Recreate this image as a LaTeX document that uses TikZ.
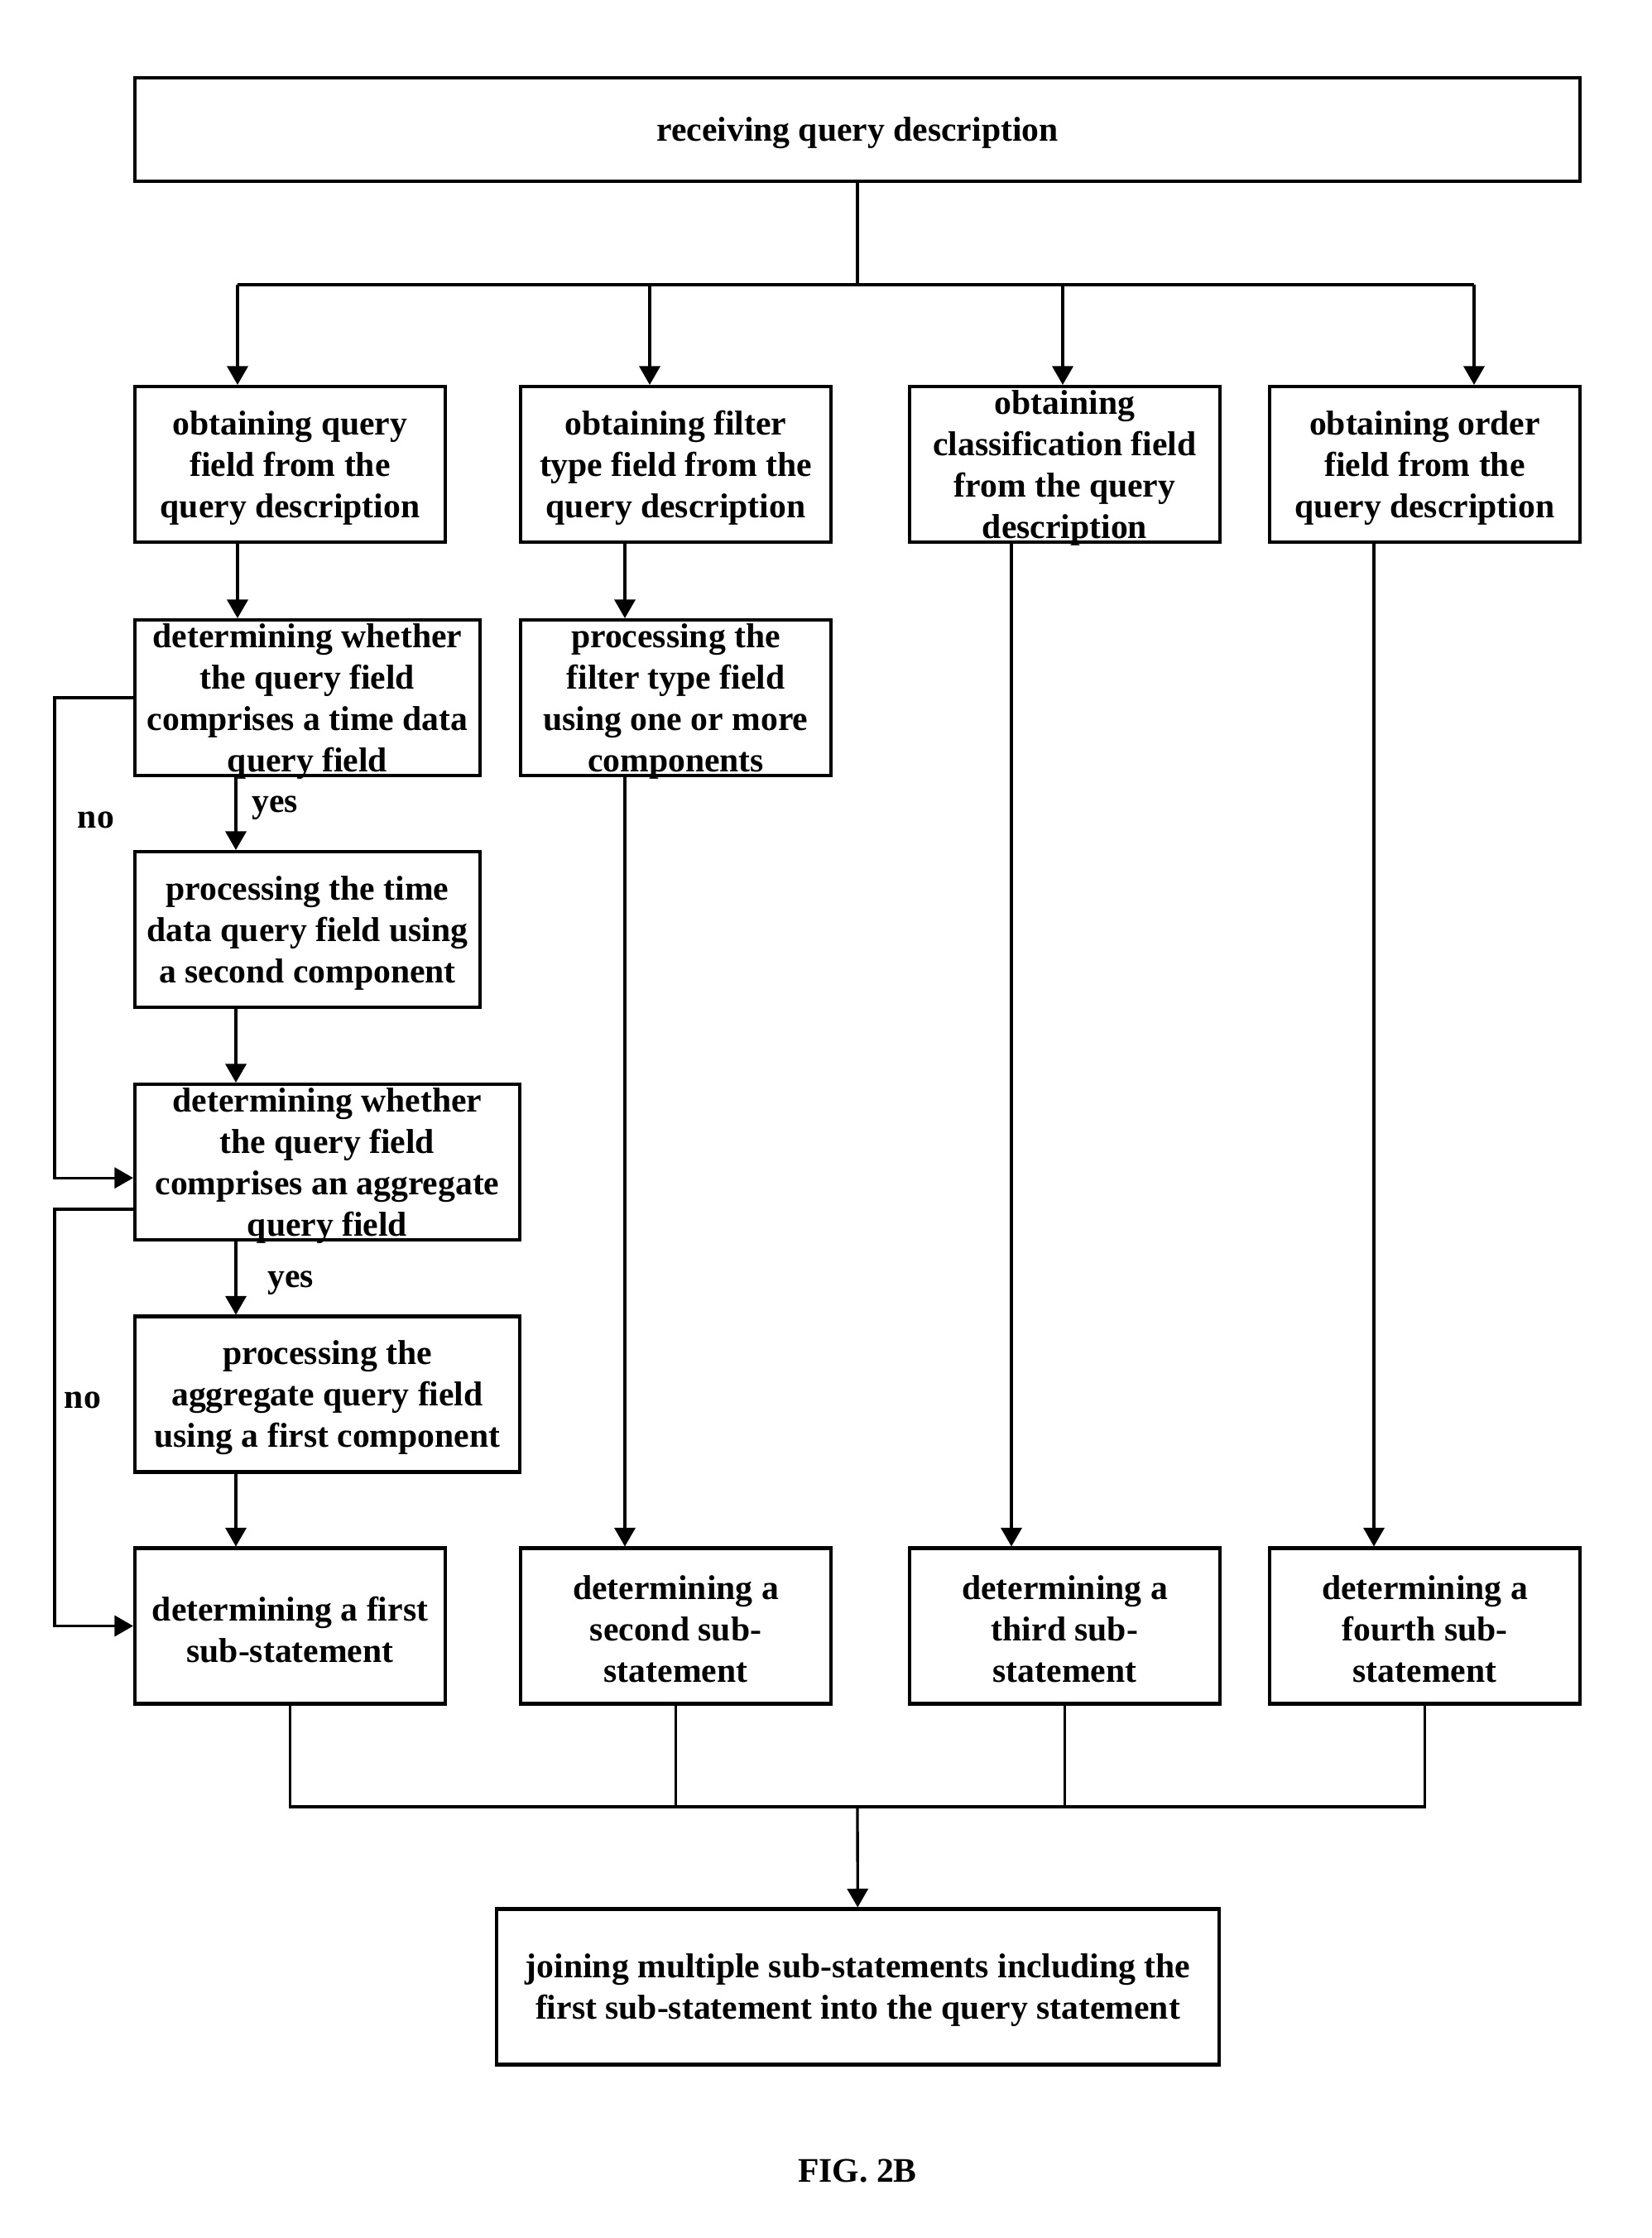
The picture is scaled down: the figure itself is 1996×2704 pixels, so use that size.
\documentclass[tikz,border=0pt]{standalone}
\usepackage{fontspec}
\setmainfont{Liberation Serif}
\usetikzlibrary{arrows.meta}
\tikzset{box node/.style={rectangle,draw,line width=1pt,inner sep=0pt,minimum height=45.1pt},
         box text/.style={align=center,font=\bfseries\fontsize{10}{12}\selectfont,inner sep=0pt,yshift=-1pt},
         tag node/.style={font=\bfseries\fontsize{10}{12}\selectfont,inner sep=0pt},
         flow/.style={line width=0.8pt,-{Triangle[width=6pt,length=5.4pt]}},
         link/.style={line width=0.8pt},
            }

\begin{document}
\begin{tikzpicture}[x=0.24pt,y=-0.24pt]
    \useasboundingbox (0,0) rectangle (1996,2704);

    \node[box node,minimum width=419pt,minimum height=30pt,label={[box text]center:receiving query description}] (1) at (1036,156.5) {};
    \node[box node,minimum width=90pt,label={[box text]center:obtaining query\\field from the\\query description}] (2) at (350.5,561) {};
    \node[box node,minimum width=90pt,label={[box text]center:obtaining filter\\type field from the\\query description}] (3) at (816.5,561) {};
    \node[box node,minimum width=90pt,label={[box text]center:obtaining\\classification field\\from the query\\description}] (4) at (1286.5,561) {};
    \node[box node,minimum width=90pt,label={[box text]center:obtaining order\\field from the\\query description}] (5) at (1721.5,561) {};
    \node[box node,minimum width=100.1pt,label={[box text]center:determining whether\\the query field\\comprises a time data\\query field}] (6) at (371.5,843) {};
    \node[box node,minimum width=90pt,label={[box text]center:processing the\\filter type field\\using one or more\\components}] (7) at (816.5,843) {};
    \node[box node,minimum width=100.1pt,label={[box text]center:processing the time\\data query field using\\a second component}] (8) at (371.5,1123) {};
    \node[box node,minimum width=111.6pt,label={[box text]center:determining whether\\the query field\\comprises an aggregate\\query field}] (9) at (395.5,1404) {};
    \node[box node,minimum width=111.6pt,label={[box text]center:processing the\\aggregate query field\\using a first component}] (10) at (395.5,1684.5) {};
    \node[box node,minimum width=90pt,label={[box text]center:determining a first\\sub-statement}] (11) at (350.5,1964.5) {};
    \node[box node,minimum width=90pt,label={[box text]center:determining a\\second sub-\\statement}] (12) at (816.5,1964.5) {};
    \node[box node,minimum width=90pt,label={[box text]center:determining a\\third sub-\\statement}] (13) at (1286.5,1964.5) {};
    \node[box node,minimum width=90pt,label={[box text]center:determining a\\fourth sub-\\statement}] (14) at (1721.5,1964.5) {};
    \node[box node,minimum width=209.5pt,label={[box text]center:joining multiple sub-statements including the\\first sub-statement into the query statement}] (15) at (1036.5,2400.5) {};

    \node[tag node] (yes1) at (332,976) {yes};
    \node[tag node] (yes2) at (351,1550) {yes};
    \node[tag node] (no1) at (116,991) {no};
    \node[tag node] (no2) at (100,1692) {no};
    \node[tag node] (fig) at (1036,2623) {FIG. 2B};

    % columns of the connectors
    \coordinate (bus) at (1036,344);
    \coordinate (b2) at (287,344);
    \coordinate (b3) at (785,344);
    \coordinate (b4) at (1284,344);
    \coordinate (b5) at (1781,344);
    \coordinate (l) at (285,0);
    \coordinate (f) at (755,0);
    \coordinate (k) at (1222,0);
    \coordinate (o) at (1660,0);
    \coordinate (nl) at (66,0);
    \coordinate (j) at (1036,2183);

    \draw[link] (1) -- (bus);
    \draw[link] (b2) -- (b5);
    \foreach \c/\n in {b2/2,b3/3,b4/4,b5/5}
        \draw[flow] (\c) -- (\c |- \n.north);

    \draw[flow] (2.south -| b2) -- (6.north -| b2);
    \draw[flow] (6.south -| l) -- (8.north -| l);
    \draw[flow] (8.south -| l) -- (9.north -| l);
    \draw[flow] (9.south -| l) -- (10.north -| l);
    \draw[flow] (10.south -| l) -- (11.north -| l);
    \draw[flow] (3.south -| f) -- (7.north -| f);
    \draw[flow] (7.south -| f) -- (12.north -| f);
    \draw[flow] (4.south -| k) -- (13.north -| k);
    \draw[flow] (5.south -| o) -- (14.north -| o);

    % no branches
    \draw[flow] (6.west) -- (6.west -| nl) |- ([yshift=-4.6pt]9.west);
    \draw[flow] ([yshift=-13.7pt]9.west) -| (nl |- 11.west) -- (11.west);

    \draw[link] (11.south) -- (11.south |- j) -- (14.south |- j) -- (14.south);
    \draw[link] (12.south) -- (12.south |- j);
    \draw[link] (13.south) -- (13.south |- j);
    \draw[flow] (j) -- (15);

\end{tikzpicture}
\end{document}
